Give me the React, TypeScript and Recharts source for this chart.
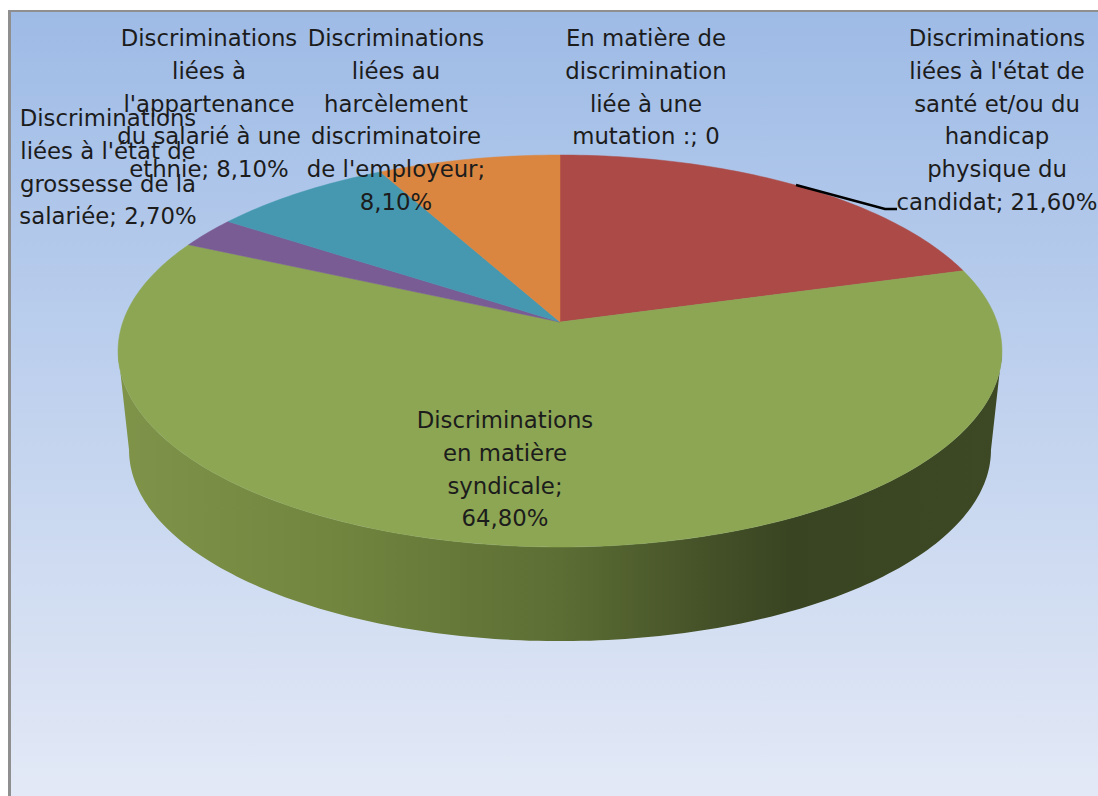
import React from "react";
import { PieChart, Pie } from "recharts";

const categories = [
  "En matière de discrimination liée à une mutation :",
  "Discriminations liées à l'état de santé et/ou du handicap physique du candidat",
  "Discriminations en matière syndicale",
  "Discriminations liées à l'état de grossesse de la salariée",
  "Discriminations liées à l'appartenance du salarié à une ethnie",
  "Discriminations liées au harcèlement discriminatoire de l'employeur",
];
const values = [0, 21.6, 64.8, 2.7, 8.1, 8.1];
const colors = ["#4F81BD", "#AB4A47", "#8CA653", "#7A5C94", "#4598B0", "#DB8640"];
const labelLines = [
  ["En matière de", "discrimination", "liée à une", "mutation :; 0"],
  ["Discriminations", "liées à l'état de", "santé et/ou du", "handicap", "physique du", "candidat; 21,60%"],
  ["Discriminations", "en matière", "syndicale;", "64,80%"],
  ["Discriminations", "liées à l'état de", "grossesse de la", "salariée; 2,70%"],
  ["Discriminations", "liées à", "l'appartenance", "du salarié à une", "ethnie; 8,10%"],
  ["Discriminations", "liées au", "harcèlement", "discriminatoire", "de l'employeur;", "8,10%"],
];

const data = categories.map((name, i) => ({ name, value: values[i], fill: colors[i] }));

// Layout and projection settings
const WIDTH = 1098;
const HEIGHT = 796;
const CX = 560;
const CY = 322;
const R = 442;
const X_SCALE = 0.9889;
const TILT = 0.4337;
const PERSPECTIVE = 0.148;
const TOP_CENTER_Y = 351;
const BASE_CENTER_Y = 450;
const BASE_SCALE = 431 / 442;
const RIM_FROM = 98.5;
const RIM_TO = 261.5;
const LINE_HEIGHT = 32.8;
const labelCenterX = [646, 997, 505, 108, 209, 396];
const labelFirstY = [46, 46, 428, 126, 46, 46];
const leaderPath = "M796 185 L885 209 L897 209";
const wallStops = [
  ["0%", "#7F9349"],
  ["25%", "#71853F"],
  ["50%", "#5C6E34"],
  ["65%", "#475429"],
  ["76%", "#394422"],
  ["100%", "#3D4824"],
];

const project = (deg: number, cx: number, cy: number, r: number) => {
  const a = (deg * Math.PI) / 180;
  const u = Math.sin(a);
  const v = Math.cos(a);
  const w = 1 + PERSPECTIVE * v;
  return { x: cx + (r * X_SCALE * u) / w, y: cy - (r * TILT * v) / w };
};

const toBase = (p: { x: number; y: number }, cx: number) => ({
  x: cx + (p.x - cx) * BASE_SCALE,
  y: BASE_CENTER_Y + (p.y - TOP_CENTER_Y) * BASE_SCALE,
});

const sweep = (from: number, to: number) => {
  const out: number[] = [];
  for (let d = from; d < to; d += 1) out.push(d);
  out.push(to);
  return out;
};

const pathOf = (pts: { x: number; y: number }[]) =>
  pts.map((p, i) => `${i ? "L" : "M"}${p.x.toFixed(2)} ${p.y.toFixed(2)}`).join(" ") + " Z";

const TopSlice = (props: any) => {
  const { cx, cy, outerRadius, startAngle, endAngle, fill } = props;
  const a = 90 - startAngle;
  const b = 90 - endAngle;
  if (b - a <= 0) return <g />;
  const rim = sweep(a, b).map((d) => project(d, cx, cy, outerRadius));
  return <path d={pathOf([{ x: cx, y: cy }, ...rim])} fill={fill} stroke={fill} strokeWidth={0.5} />;
};

const WallSlice = (props: any) => {
  const { cx, cy, outerRadius, startAngle, endAngle } = props;
  const a = Math.max(90 - startAngle, RIM_FROM);
  const b = Math.min(90 - endAngle, RIM_TO);
  if (b - a <= 0) return <g />;
  const top = sweep(a, b).map((d) => project(d, cx, cy, outerRadius));
  const base = top.map((p) => toBase(p, cx)).reverse();
  return (
    <g>
      <defs>
        <linearGradient id="wallGradient" gradientUnits="userSpaceOnUse" x1={118} y1={0} x2={1002} y2={0}>
          {wallStops.map(([offset, color]) => (
            <stop key={offset} offset={offset} stopColor={color} />
          ))}
        </linearGradient>
      </defs>
      <path d={pathOf([...top, ...base])} fill="url(#wallGradient)" />
    </g>
  );
};

const SliceLabel = (props: any) => {
  const { index } = props;
  const lines = labelLines[index];
  return (
    <text
      x={labelCenterX[index]}
      y={labelFirstY[index]}
      textAnchor="middle"
      fill="#1c1c1c"
      fontFamily="'DejaVu Sans', sans-serif"
      fontSize={22.8}
    >
      {lines.map((line, i) => (
        <tspan key={i} x={labelCenterX[index]} y={labelFirstY[index] + i * LINE_HEIGHT}>
          {line}
        </tspan>
      ))}
    </text>
  );
};

const LeaderLine = (props: any) =>
  props.index === 1 ? <path d={leaderPath} fill="none" stroke="#000" strokeWidth={2.5} /> : <g />;

export default function App() {
  return (
    <div style={{ position: "absolute", left: 0, top: 0, width: WIDTH, height: HEIGHT, background: "#fff", overflow: "hidden" }}>
      <div
        style={{
          position: "absolute",
          left: 8,
          top: 10,
          right: 0,
          bottom: 0,
          borderLeft: "3px solid #8f8f8f",
          borderTop: "2px solid #8f8f8f",
          background: "linear-gradient(180deg, #9EBBE6 0%, #E3E9F6 100%)",
        }}
      />
      <div style={{ position: "absolute", left: 0, top: 0 }}>
        <PieChart width={WIDTH} height={HEIGHT} margin={{ top: 0, right: 0, bottom: 0, left: 0 }}>
          <Pie
            data={data}
            dataKey="value"
            nameKey="name"
            cx={CX}
            cy={CY}
            outerRadius={R}
            startAngle={90}
            endAngle={-270}
            stroke="none"
            shape={WallSlice}
            label={false}
            labelLine={false}
            isAnimationActive={false}
          />
          <Pie
            data={data}
            dataKey="value"
            nameKey="name"
            cx={CX}
            cy={CY}
            outerRadius={R}
            startAngle={90}
            endAngle={-270}
            stroke="none"
            shape={TopSlice}
            label={SliceLabel}
            labelLine={LeaderLine}
            isAnimationActive={false}
          />
        </PieChart>
      </div>
    </div>
  );
}
